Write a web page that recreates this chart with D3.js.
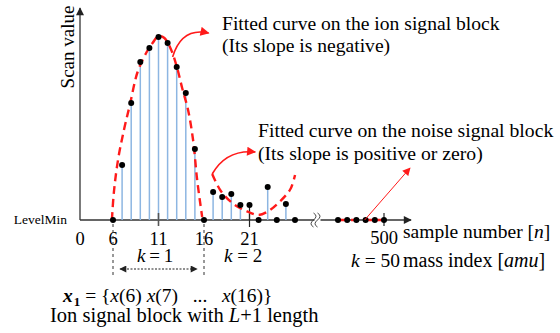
<!DOCTYPE html>
<html><head><meta charset="utf-8">
<script src="https://cdn.jsdelivr.net/npm/d3@7"></script>
<style>
body{margin:0;background:#fff}
svg{display:block}
text{font-family:"Liberation Serif","Times New Roman",serif}
</style>
</head><body>
<svg id="chart" width="560" height="333"></svg>
<script>
// sample numbers and scan values (LevelMin = 0)
var ionSamples = [6, 7, 8, 9, 10, 11, 12, 13, 14, 15, 16];
var ionValues = [0, 27.5, 58.5, 79, 86, 91.5, 88.5, 76.5, 63.5, 35.5, 0];
var noiseSamples = [17, 18, 19, 20, 21, 22, 23, 24, 25, 26];
var noiseValues = [14, 11.5, 13, 7.5, 7.5, 0, 16.5, 0, 8, 0];
var tailSamples = [495, 496, 497, 498, 499, 500];
var tailValues = [0, 0, 0, 0, 0, 0];

// fitted curves
var ionFitN = [5.8, 6.1, 6.55, 7.2, 7.85, 8.7, 9.7, 10.35, 11, 11.65, 12.4, 13.05, 13.6, 14.25, 14.8, 15.25, 15.8];
var ionFitV = [0, 14, 30, 45, 57.5, 74, 84, 88.5, 92, 91, 85, 76, 66, 55, 40, 20, 1.5];
var noiseFitN = [16.9, 17.85, 19.25, 20.9, 22, 23.1, 24.4, 25.5, 26.4];
var noiseFitV = [23, 14.5, 8, 4, 2.5, 4.5, 9.5, 15.5, 22.5];
var tailFitN = [494.5, 500.6];
var tailFitV = [0, 0];

var tickLabels = [0, 6, 11, 16, 21];
var markTicks = [11, 21, 500];
var blockEdges = [6, 16];

var svg = d3.select("#chart");
var red = "#ff1a1a";
var nb = "\u00a0";

// broken sample axis: 0..26 then 495..500
var x = d3.scaleLinear().domain([0, 6, 26, 495, 500]).range([80, 113, 295, 338, 384]);
var y = d3.scaleLinear().domain([0, 100]).range([220, 20]);

var defs = svg.append("defs");
function marker(id, color, w, h) {
    defs.append("marker")
        .attr("id", id)
        .attr("viewBox", "0 0 10 10")
        .attr("refX", 9).attr("refY", 5)
        .attr("markerUnits", "userSpaceOnUse")
        .attr("markerWidth", w).attr("markerHeight", h)
        .attr("orient", "auto-start-reverse")
        .append("path")
        .attr("d", "M0,0 L10,5 L0,10 z")
        .attr("fill", color);
}
marker("arrBlack", "#222", 9, 8);
marker("arrRed", red, 10, 9);
marker("arrRedSmall", red, 9, 8);
marker("arrDot", "#222", 8, 7);

// axes
svg.append("line")
    .attr("x1", x(0)).attr("y1", y(0)).attr("x2", x(0)).attr("y2", 8)
    .attr("stroke", "#333").attr("stroke-width", 1.3)
    .attr("marker-end", "url(#arrBlack)");
svg.append("line")
    .attr("x1", x(0)).attr("y1", y(0)).attr("x2", 411).attr("y2", y(0))
    .attr("stroke", "#333").attr("stroke-width", 1.3)
    .attr("marker-end", "url(#arrBlack)");

// axis break mark
var bx = (x(26) + x(495)) / 2 + 1;
svg.append("rect").attr("x", bx - 3).attr("y", y(0) - 1).attr("width", 6).attr("height", 2).attr("fill", "#fff");
[-2, 2].forEach(function(o) {
    svg.append("path")
        .attr("d", `M${bx + o - 2},${y(0) - 7} q5,3 0,7 q-5,4 0,7`)
        .attr("fill", "none").attr("stroke", "#333").attr("stroke-width", 0.9);
});

// stems
var stems = ionSamples.map((n, i) => ({n: n, v: ionValues[i]}))
    .concat(noiseSamples.map((n, i) => ({n: n, v: noiseValues[i]})))
    .filter(d => d.v > 0);
svg.append("g")
    .selectAll("line")
    .data(stems)
    .join("line")
    .attr("x1", d => x(d.n)).attr("x2", d => x(d.n))
    .attr("y1", y(0)).attr("y2", d => y(d.v))
    .attr("stroke", d => d.n === 21 ? "#222" : "#8db6e2")
    .attr("stroke-width", d => d.n === 21 ? 1.2 : 1.5);

// tick marks
svg.append("g")
    .selectAll("line")
    .data(markTicks)
    .join("line")
    .attr("x1", d => x(d)).attr("x2", d => x(d))
    .attr("y1", y(0) - 7).attr("y2", d => d === 21 ? y(0) + 7 : y(0) + 6)
    .attr("stroke", d => d === 11 ? "#555" : "#222")
    .attr("stroke-width", d => d === 11 ? 1.6 : 1.2);

// fitted curves
var fit = d3.line().x(d => x(d[0])).y(d => y(d[1])).curve(d3.curveCatmullRom);
[[ionFitN, ionFitV], [noiseFitN, noiseFitV], [tailFitN, tailFitV]].forEach(function(c) {
    svg.append("path")
        .attr("d", fit(c[0].map((n, i) => [n, c[1][i]])))
        .attr("fill", "none")
        .attr("stroke", red)
        .attr("stroke-width", 2.4)
        .attr("stroke-dasharray", "8,5");
});

// sample points
var pts = ionSamples.map((n, i) => [n, ionValues[i]])
    .concat(noiseSamples.map((n, i) => [n, noiseValues[i]]))
    .concat(tailSamples.map((n, i) => [n, tailValues[i]]));
svg.append("g")
    .selectAll("circle")
    .data(pts)
    .join("circle")
    .attr("cx", d => x(d[0])).attr("cy", d => y(d[1]))
    .attr("r", 3)
    .attr("fill", "#000");

// tick labels
svg.append("g")
    .selectAll("text")
    .data(tickLabels)
    .join("text")
    .attr("x", d => x(d)).attr("y", 245)
    .attr("text-anchor", "middle")
    .style("font-size", "18.5px")
    .text(d => d);
svg.append("text").attr("x", x(500)).attr("y", 244)
    .attr("text-anchor", "middle").style("font-size", "18.5px").text("500");

svg.append("text").attr("x", 67).attr("y", 224)
    .attr("text-anchor", "end").style("font-size", "13.5px").text("LevelMin");

svg.append("text")
    .attr("transform", "translate(74,47) rotate(-90)")
    .attr("text-anchor", "middle")
    .style("font-size", "19px")
    .text("Scan value");

// block edges
svg.append("g")
    .selectAll("line")
    .data(blockEdges)
    .join("line")
    .attr("x1", d => x(d)).attr("x2", d => x(d))
    .attr("y1", y(0) + 4).attr("y2", 278)
    .attr("stroke", "#333").attr("stroke-width", 1)
    .attr("stroke-dasharray", "3,3");

svg.append("line")
    .attr("x1", x(6) + 7).attr("x2", x(16) - 7).attr("y1", 269).attr("y2", 269)
    .attr("stroke", "#222").attr("stroke-width", 1.2)
    .attr("stroke-dasharray", "2,1.5")
    .attr("marker-start", "url(#arrDot)")
    .attr("marker-end", "url(#arrDot)");

function kLabel(xx, yy, k, gap, size, anchor) {
    var t = svg.append("text").attr("x", xx).attr("y", yy)
        .attr("text-anchor", anchor || "start")
        .style("font-size", size + "px");
    t.append("tspan").style("font-style", "italic").text("k");
    t.append("tspan").text(gap + "=" + gap + k);
    return t;
}
kLabel(137, 262, 1, "\u2009", 19);
kLabel(224, 262, 2, nb, 19);
kLabel(400, 267, 50, nb, 19.5, "end");

var sn = svg.append("text").attr("x", 403).attr("y", 238).style("font-size", "19.5px");
sn.append("tspan").text("sample number [");
sn.append("tspan").style("font-style", "italic").text("n");
sn.append("tspan").text("]");

var mi = svg.append("text").attr("x", 403).attr("y", 267).style("font-size", "20px");
mi.append("tspan").text("mass index [");
mi.append("tspan").style("font-style", "italic").text("amu");
mi.append("tspan").text("]");

// block set notation
var xs = svg.append("text").attr("x", 63).attr("y", 302).style("font-size", "19.5px");
xs.append("tspan").style("font-style", "italic").style("font-weight", "bold").text("x");
xs.append("tspan").attr("dx", 1).attr("dy", 4).style("font-size", "13px").style("font-weight", "bold").text("1");
xs.append("tspan").attr("dy", -4).text(nb + "=" + nb + "{");
[["6", nb], ["7", nb + nb + nb + "..." + nb + nb + nb], ["16", "}"]].forEach(function(p) {
    xs.append("tspan").style("font-style", "italic").text("x");
    xs.append("tspan").text("(" + p[0] + ")" + p[1]);
});

var ib = svg.append("text").attr("x", 50).attr("y", 322).style("font-size", "20.5px");
ib.append("tspan").text("Ion signal block with ");
ib.append("tspan").style("font-style", "italic").text("L");
ib.append("tspan").text("+1 length");

// annotations
svg.append("text").attr("x", 222).attr("y", 30).style("font-size", "19.6px")
    .text("Fitted curve on the ion signal block");
svg.append("text").attr("x", 222).attr("y", 52).style("font-size", "19.6px")
    .text("(Its slope is negative)");
svg.append("text").attr("x", 258).attr("y", 137).style("font-size", "19.7px")
    .text("Fitted curve on the noise signal block");
svg.append("text").attr("x", 258).attr("y", 160).style("font-size", "19.7px")
    .text("(Its slope is positive or zero)");

var a1x = x(12.55), a1y = y(81.5);
svg.append("path")
    .attr("d", `M${a1x},${a1y} C${a1x + 6},${a1y - 20} ${a1x + 18},${a1y - 28} ${a1x + 36},${a1y - 24}`)
    .attr("fill", "none").attr("stroke", red).attr("stroke-width", 1.6)
    .attr("marker-end", "url(#arrRed)");

var a2x = x(16.9), a2y = y(23);
svg.append("path")
    .attr("d", `M${a2x},${a2y} C${a2x + 8},${a2y - 14} ${a2x + 22},${a2y - 24} ${a2x + 43},${a2y - 22}`)
    .attr("fill", "none").attr("stroke", red).attr("stroke-width", 1.6)
    .attr("marker-end", "url(#arrRed)");

svg.append("line")
    .attr("x1", x(497.9)).attr("y1", y(0)).attr("x2", 410).attr("y2", 168)
    .attr("stroke", red).attr("stroke-width", 1)
    .attr("marker-end", "url(#arrRedSmall)");
</script>
</body></html>
